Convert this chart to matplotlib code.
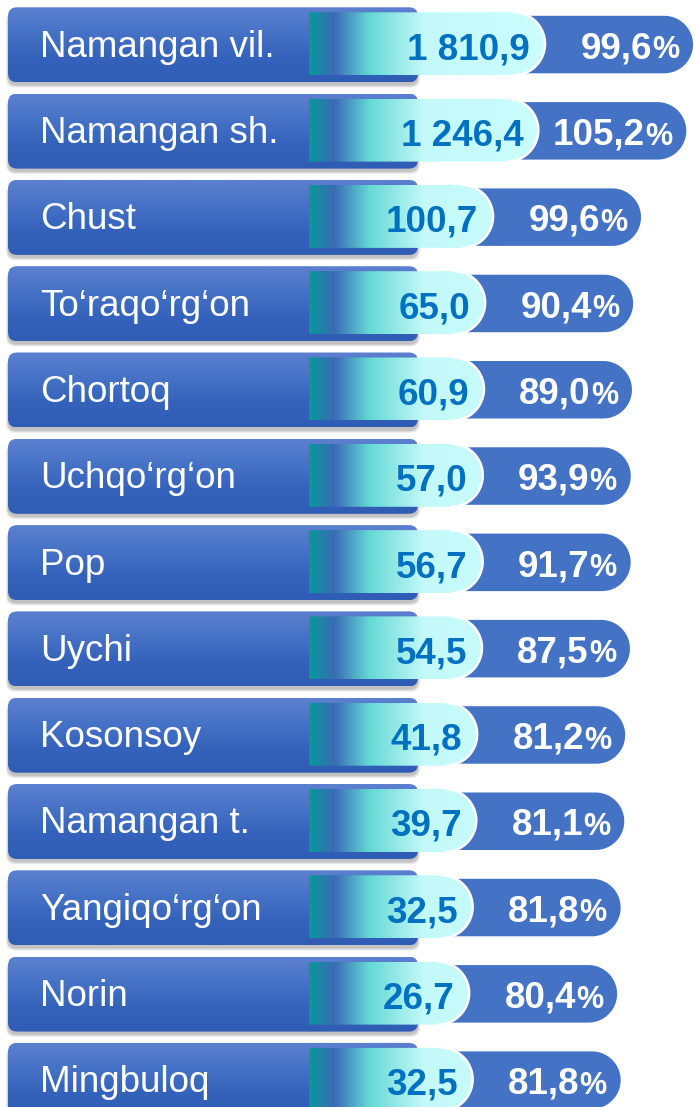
import matplotlib

matplotlib.use("Agg")
import matplotlib.pyplot as plt  # noqa: E402
import numpy as np  # noqa: E402
from matplotlib.colors import LinearSegmentedColormap  # noqa: E402
from matplotlib.patches import FancyBboxPatch, Polygon  # noqa: E402

districts = ["Namangan vil.", "Namangan sh.", "Chust", "To‘raqo‘rg‘on", "Chortoq",
             "Uchqo‘rg‘on", "Pop", "Uychi", "Kosonsoy", "Namangan t.",
             "Yangiqo‘rg‘on", "Norin", "Mingbuloq"]
volume = [1810.9, 1246.4, 100.7, 65.0, 60.9, 57.0, 56.7, 54.5, 41.8, 39.7, 32.5, 26.7, 32.5]
growth_pct = [99.6, 105.2, 99.6, 90.4, 89.0, 93.9, 91.7, 87.5, 81.2, 81.1, 81.8, 80.4, 81.8]

W, H = 695, 1107
PITCH = 86.3
TOP = 7.3
FONT = "Liberation Sans"

box_cmap = LinearSegmentedColormap.from_list(
    "box", ["#5c80cf", "#4673c6", "#3563bb", "#2f5db5"])
band_cmap = LinearSegmentedColormap.from_list(
    "band", [(0.0, "#08999a"), (0.1, "#3a6bb4"), (0.24, "#64d9d5"),
             (0.46, "#c4f9f9"), (1.0, "#ccffff")])


def fmt(v):
    return f"{v:,.1f}".replace(",", " ").replace(".", ",")


def capsule(x0, x1, y0, y1, n=40):
    # square left end, round right end (y axis points down)
    r = (y1 - y0) / 2
    cx, cy = x1 - r, (y0 + y1) / 2
    th = np.linspace(-np.pi / 2, np.pi / 2, n)
    arc = np.column_stack([cx + r * np.cos(th), cy + r * np.sin(th)])
    pts = np.vstack([[x0, y0], arc, [x0, y1]])
    return pts, arc


fig = plt.figure(figsize=(W / 100, H / 100), dpi=100)
ax = fig.add_axes([0, 0, 1, 1])
ax.set_xlim(0, W)
ax.set_ylim(H, 0)
ax.axis("off")

band_x0, band_x1 = 309, 560
grad_x = np.linspace(0, 1, 256)[None, :]
grad_y = np.linspace(0, 1, 64)[:, None]

for i, (name, v, p) in enumerate(zip(districts, volume, growth_pct)):
    t = TOP + i * PITCH
    xe = 410 + 18 * np.log(v)       # end of the value band
    xp = xe + 148                   # end of the percent pill

    # soft shadow under the label box
    for k in range(5):
        sh = FancyBboxPatch((8 - k * 0.5, t + 3 + k * 0.6), 410 + k, 75,
                            boxstyle="round,pad=0,rounding_size=9",
                            fc="#000000", ec="none", alpha=0.05, zorder=1)
        ax.add_patch(sh)

    box = FancyBboxPatch((8, t), 410, 75, boxstyle="round,pad=0,rounding_size=9",
                         fc="none", ec="none", transform=ax.transData)
    ax.add_patch(box)
    im = ax.imshow(np.repeat(grad_y, 2, axis=1), cmap=box_cmap, aspect="auto",
                   extent=(8, 418, t + 75, t), origin="upper",
                   interpolation="bilinear", zorder=2)
    im.set_clip_path(box)

    # percent pill
    pill_pts, _ = capsule(xe - 40, xp, t + 8.5, t + 66)
    ax.add_patch(Polygon(pill_pts, closed=True, fc="#4472c4", ec="none", zorder=3))

    # value band with gradient and white rim
    band_pts, arc = capsule(band_x0, xe, t + 5, t + 68)
    band = Polygon(band_pts, closed=True, fc="none", ec="none", transform=ax.transData)
    ax.add_patch(band)
    bim = ax.imshow(grad_x, cmap=band_cmap, aspect="auto",
                    extent=(band_x0, band_x1, t + 68, t + 5), origin="upper",
                    interpolation="bilinear", zorder=4)
    bim.set_clip_path(band)
    ax.plot(arc[:, 0], arc[:, 1], color="white", lw=1.8, zorder=5,
            solid_capstyle="butt")

    ax.text(40, t + 49.5, name, color="white", fontsize=26.5, family=FONT,
            va="baseline", ha="left", zorder=6)
    ax.text(xe - 15, t + 52, fmt(v), color="#0070c0", fontsize=26.5,
            fontweight="bold", family=FONT, va="baseline", ha="right", zorder=6)
    pct_w = 0.889 * 22 * 100 / 72
    ax.text(xp - 14, t + 51, "%", color="white", fontsize=22, fontweight="bold",
            family=FONT, va="baseline", ha="right", zorder=6)
    ax.text(xp - 14 - pct_w, t + 51, fmt(p), color="white", fontsize=26.5,
            fontweight="bold", family=FONT, va="baseline", ha="right", zorder=6)

fig.savefig("out.png", dpi=100)
